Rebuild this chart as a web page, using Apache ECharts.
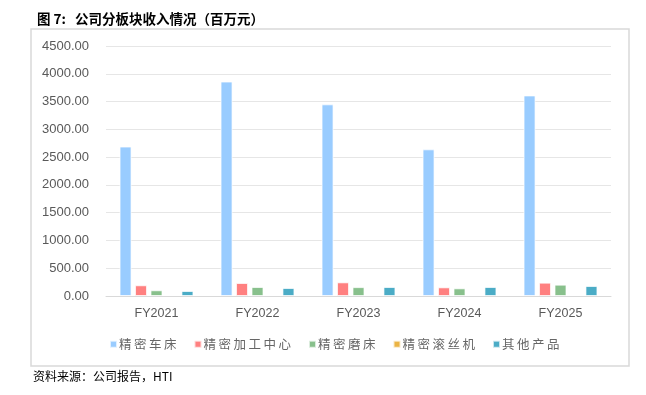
<!DOCTYPE html>
<html>
<head>
<meta charset="utf-8">
<script src="https://cdn.jsdelivr.net/npm/echarts@6/dist/echarts.min.js"></script>
<style>html,body{margin:0;padding:0;background:#fff;}#c{width:646px;height:395px;}</style>
</head>
<body>
<div id="c"></div>
<script>
var categories = ['FY2021', 'FY2022', 'FY2023', 'FY2024', 'FY2025'];
var seriesNames = ['精密车床', '精密加工中心', '精密磨床', '精密滚丝机', '其他产品'];
var lathe = [2690, 3860, 3450, 2640, 3610];
var machiningCenter = [193, 234, 246, 156, 240];
var grinder = [103, 162, 160, 138, 204];
var threadRoller = [18, null, null, null, null];
var others = [90, 144, 162, 162, 180];
var yTicks = [0, 500, 1000, 1500, 2000, 2500, 3000, 3500, 4000, 4500];
var colors = ['#99CCFF', '#FF8080', '#88C08C', '#EBB444', '#4BACC6'];
var seriesData = [lathe, machiningCenter, grinder, threadRoller, others];

var chart = echarts.init(document.getElementById('c'), null, {renderer: 'canvas'});
var option = {
  animation: false,
  backgroundColor: '#fff',
  title: {
    text: '图 7:   公司分板块收入情况（百万元）',
    left: 32, top: 7,
    textStyle: {fontSize: 13.5, fontWeight: 'bold', color: '#000', fontFamily: '"Noto Sans CJK SC", sans-serif'}
  },
  graphic: [
    {type: 'rect', shape: {x: 31, y: 29, width: 598, height: 337}, style: {fill: 'none', stroke: '#D9D9D9', lineWidth: 1.5}, silent: true},
    {type: 'text', left: 33, top: 370, style: {text: '资料来源：公司报告，HTI', fontSize: 12, fill: '#000', fontFamily: '"Noto Sans CJK SC", sans-serif'}}
  ],
  legend: {
    data: seriesNames,
    top: 333, left: 104,
    itemWidth: 7, itemHeight: 7, itemGap: 17,
    icon: 'rect',
    formatter: function (n) { return n.split('').join('\u2009'); },
    textStyle: {fontSize: 12.5, color: '#666', fontFamily: '"Noto Sans CJK SC", sans-serif', padding: [0, 0, 0, -3]}
  },
  grid: {left: 106, right: 35, top: 46, bottom: 99, containLabel: false},
  xAxis: {
    type: 'category',
    data: categories,
    axisTick: {show: false},
    axisLine: {lineStyle: {color: '#D9D9D9', width: 1}},
    axisLabel: {color: '#595959', fontSize: 12.5, margin: 11, fontFamily: '"Liberation Sans", Arial, sans-serif'}
  },
  yAxis: {
    type: 'value',
    min: yTicks[0], max: yTicks[yTicks.length - 1], interval: yTicks[1] - yTicks[0],
    axisLine: {show: false},
    axisTick: {show: false},
    splitLine: {lineStyle: {color: '#E6E6E6', width: 1}},
    axisLabel: {color: '#595959', fontSize: 13, margin: 17, fontFamily: '"Liberation Sans", Arial, sans-serif',
      formatter: function (v) { return v.toFixed(2); }}
  },
  series: seriesNames.map(function (name, i) {
    return {
      name: name,
      type: 'bar',
      data: seriesData[i],
      barWidth: 12,
      barGap: '29%',
      itemStyle: {color: colors[i], borderColor: 'rgba(255,255,255,0.7)', borderWidth: 1}
    };
  })
};
chart.setOption(option);
</script>
</body>
</html>
